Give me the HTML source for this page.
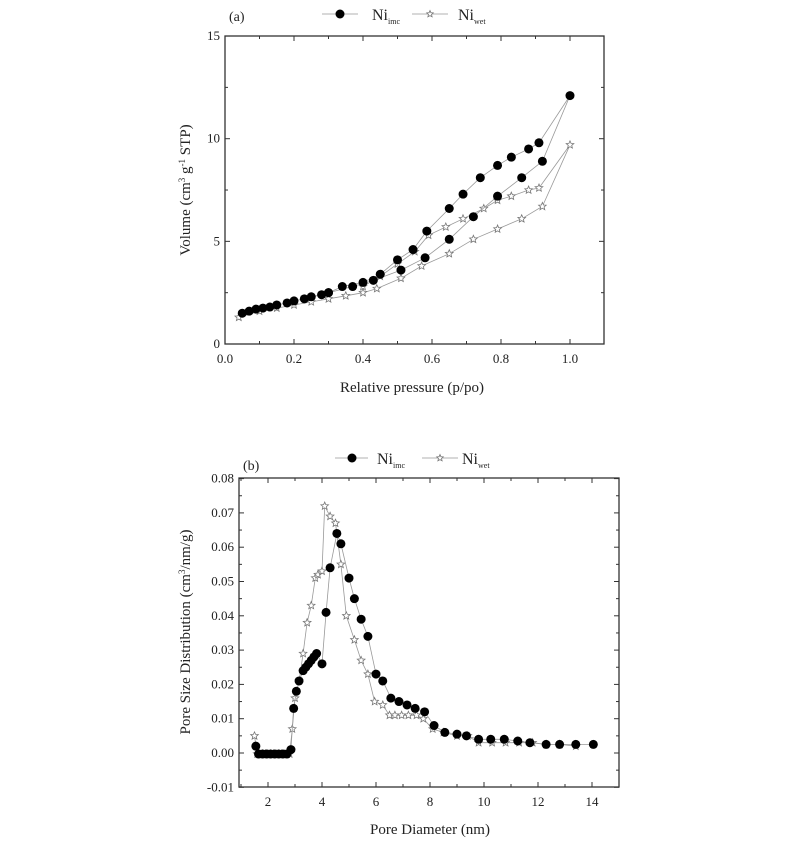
<!DOCTYPE html>
<html><head><meta charset="utf-8"><style>
html,body{margin:0;padding:0;background:#fff;}
svg{display:block;font-family:"Liberation Serif",serif;}
</style></head><body>
<svg id="s" width="788" height="851" viewBox="0 0 788 851" xmlns="http://www.w3.org/2000/svg">
<g fill="#222" font-size="13">
<text x="229" y="21" font-size="14">(a)</text>
<text x="243" y="470" font-size="14">(b)</text>
<text transform="translate(190,190) rotate(-90)" text-anchor="middle" font-size="15">Volume (cm<tspan dy="-5" font-size="9">3</tspan><tspan dy="5"> g</tspan><tspan dy="-5" font-size="9">-1</tspan><tspan dy="5"> STP)</tspan></text>
<text x="412" y="392" text-anchor="middle" font-size="15">Relative pressure (p/po)</text>
<text transform="translate(190,632) rotate(-90)" text-anchor="middle" font-size="15">Pore Size Distribution (cm<tspan dy="-5" font-size="9">3</tspan><tspan dy="5">/nm/g)</tspan></text>
<text x="430" y="834" text-anchor="middle" font-size="15">Pore Diameter (nm)</text>
</g>
<g id="g"></g>
</svg>
<script>
var g=document.getElementById('g'),h='';
function L(x1,y1,x2,y2,c,w){h+='<line x1="'+x1+'" y1="'+y1+'" x2="'+x2+'" y2="'+y2+'" stroke="'+(c||'#333')+'" stroke-width="'+(w||1)+'"/>';}
function T(x,y,t,a){h+='<text x="'+x+'" y="'+y+'" font-size="13" fill="#222" text-anchor="'+(a||'middle')+'">'+t+'</text>';}
function star(x,y,r){var p=[];for(var i=0;i<10;i++){var rr=i%2?r*0.45:r,a=-Math.PI/2+i*Math.PI/5;p.push((x+rr*Math.cos(a)).toFixed(1)+','+(y+rr*Math.sin(a)).toFixed(1));}h+='<polygon points="'+p.join(' ')+'" fill="#fff" stroke="#777" stroke-width="0.8"/>';}
function circ(x,y,r){h+='<circle cx="'+x+'" cy="'+y+'" r="'+r+'" fill="#000"/>';}
function series(d,fx,fy,type,r){var pts=d.map(function(p){return fx(p[0]).toFixed(1)+','+fy(p[1]).toFixed(1)});h+='<polyline points="'+pts.join(' ')+'" fill="none" stroke="#999" stroke-width="0.8"/>';d.forEach(function(p){type=='c'?circ(fx(p[0]),fy(p[1]),r):star(fx(p[0]),fy(p[1]),r);});}
function LEG(t){return '<tspan font-size="16">Ni</tspan><tspan font-size="8" dy="4">'+t+'</tspan>';}
// Plot a
var ax=function(v){return 225+v*345},ay=function(v){return 344-v*20.53};
var aL=225,aR=604,aT=36,aB=344;
var wa=[[0.04,1.3],[0.1,1.6],[0.15,1.75],[0.2,1.9],[0.25,2.05],[0.3,2.2],[0.35,2.35],[0.4,2.5],[0.44,2.7],[0.51,3.2],[0.57,3.8],[0.65,4.4],[0.72,5.1],[0.79,5.6],[0.86,6.1],[0.92,6.7],[1.0,9.7],[0.91,7.6],[0.88,7.5],[0.83,7.2],[0.79,7.0],[0.75,6.6],[0.69,6.1],[0.64,5.7],[0.59,5.3],[0.55,4.5],[0.5,3.9],[0.45,3.3],[0.4,2.8]];
series(wa,ax,ay,'s',4);
var ia=[[0.05,1.5],[0.07,1.6],[0.09,1.7],[0.11,1.75],[0.13,1.8],[0.15,1.9],[0.18,2.0],[0.2,2.1],[0.23,2.2],[0.25,2.3],[0.28,2.4],[0.3,2.5],[0.37,2.8],[0.43,3.1],[0.51,3.6],[0.58,4.2],[0.65,5.1],[0.72,6.2],[0.79,7.2],[0.86,8.1],[0.92,8.9],[1.0,12.1],[0.91,9.8],[0.88,9.5],[0.83,9.1],[0.79,8.7],[0.74,8.1],[0.69,7.3],[0.65,6.6],[0.585,5.5],[0.545,4.6],[0.5,4.1],[0.45,3.4],[0.4,3.0],[0.34,2.8],[0.3,2.5]];
series(ia,ax,ay,'c',4.5);
h+='<rect x="'+aL+'" y="'+aT+'" width="'+(aR-aL)+'" height="'+(aB-aT)+'" fill="none" stroke="#333" stroke-width="1.3"/>';
for(var i=0;i<=11;i++){var x=ax(i/10),len=i%2?3:5;if(x>aR)break;L(x,aB,x,aB-len);L(x,aT,x,aT+len);if(i%2==0)T(x,aB+19,(i/10).toFixed(1));}
for(var i=0;i<=6;i++){var y=ay(i*2.5),len=i%2?3:5;L(aL,y,aL+len,y);L(aR,y,aR-len,y);if(i%2==0)T(aL-5,y+4,i*2.5,'end');}
L(322,14,358,14,'#999',0.8);circ(340,14,4.5);T(372,20,LEG('imc'),'start');
L(412,14,448,14,'#999',0.8);star(430,14,3.5);T(458,20,LEG('wet'),'start');
// Plot b
var bx=function(v){return 268+(v-2)*27},by=function(v){return 753-v*3430};
var bL=239,bR=619,bT=478,bB=787;
var wb=[[1.5,0.005],[1.6,-0.0003],[1.7,-0.0003],[1.8,-0.0003],[1.9,-0.0003],[2.0,-0.0003],[2.1,-0.0003],[2.2,-0.0003],[2.3,-0.0003],[2.4,-0.0003],[2.5,-0.0003],[2.6,-0.0003],[2.7,-0.0003],[2.8,-0.0003],[2.9,0.007],[3.0,0.016],[3.15,0.021],[3.3,0.029],[3.45,0.038],[3.6,0.043],[3.75,0.051],[3.85,0.052],[4.0,0.053],[4.1,0.072],[4.3,0.069],[4.5,0.067],[4.7,0.055],[4.9,0.040],[5.2,0.033],[5.45,0.027],[5.7,0.023],[5.95,0.015],[6.25,0.014],[6.5,0.011],[6.7,0.011],[6.95,0.011],[7.2,0.011],[7.5,0.011],[7.75,0.010],[8.1,0.007],[8.5,0.006],[9.0,0.005],[9.4,0.005],[9.8,0.003],[10.3,0.003],[10.8,0.003],[11.3,0.003],[11.8,0.003],[12.3,0.0025],[12.8,0.0025],[13.4,0.002]];
series(wb,bx,by,'s',4);
var ib=[[1.55,0.002],[1.65,-0.0003],[1.8,-0.0003],[1.95,-0.0003],[2.1,-0.0003],[2.25,-0.0003],[2.4,-0.0003],[2.55,-0.0003],[2.7,-0.0003],[2.85,0.001],[2.95,0.013],[3.05,0.018],[3.15,0.021],[3.3,0.024],[3.4,0.025],[3.5,0.026],[3.6,0.027],[3.7,0.028],[3.8,0.029],[4.0,0.026],[4.15,0.041],[4.3,0.054],[4.55,0.064],[4.7,0.061],[5.0,0.051],[5.2,0.045],[5.45,0.039],[5.7,0.034],[6.0,0.023],[6.25,0.021],[6.55,0.016],[6.85,0.015],[7.15,0.014],[7.45,0.013],[7.8,0.012],[8.15,0.008],[8.55,0.006],[9.0,0.0055],[9.35,0.005],[9.8,0.004],[10.25,0.004],[10.75,0.004],[11.25,0.0035],[11.7,0.003],[12.3,0.0025],[12.8,0.0025],[13.4,0.0025],[14.05,0.0025]];
series(ib,bx,by,'c',4.5);
h+='<rect x="'+bL+'" y="'+bT+'" width="'+(bR-bL)+'" height="'+(bB-bT)+'" fill="none" stroke="#333" stroke-width="1.3"/>';
for(var v=1;v<=15;v++){var x=bx(v),len=v%2?3:5;if(x<bL||x>bR)continue;L(x,bB,x,bB-len);L(x,bT,x,bT+len);if(v%2==0&&v<=14)T(x,bB+19,v);}
for(var i=-2;i<=16;i++){var v=i*0.005,y=by(v),len=i%2?3:5;L(bL,y,bL+len,y);L(bR,y,bR-len,y);if(i%2==0)T(bL-5,y+4,v.toFixed(2),'end');}
L(335,458,368,458,'#999',0.8);circ(352,458,4.5);T(377,464,LEG('imc'),'start');
L(422,458,458,458,'#999',0.8);star(440,458,3.5);T(462,464,LEG('wet'),'start');
g.innerHTML=h;
</script>
</body></html>
